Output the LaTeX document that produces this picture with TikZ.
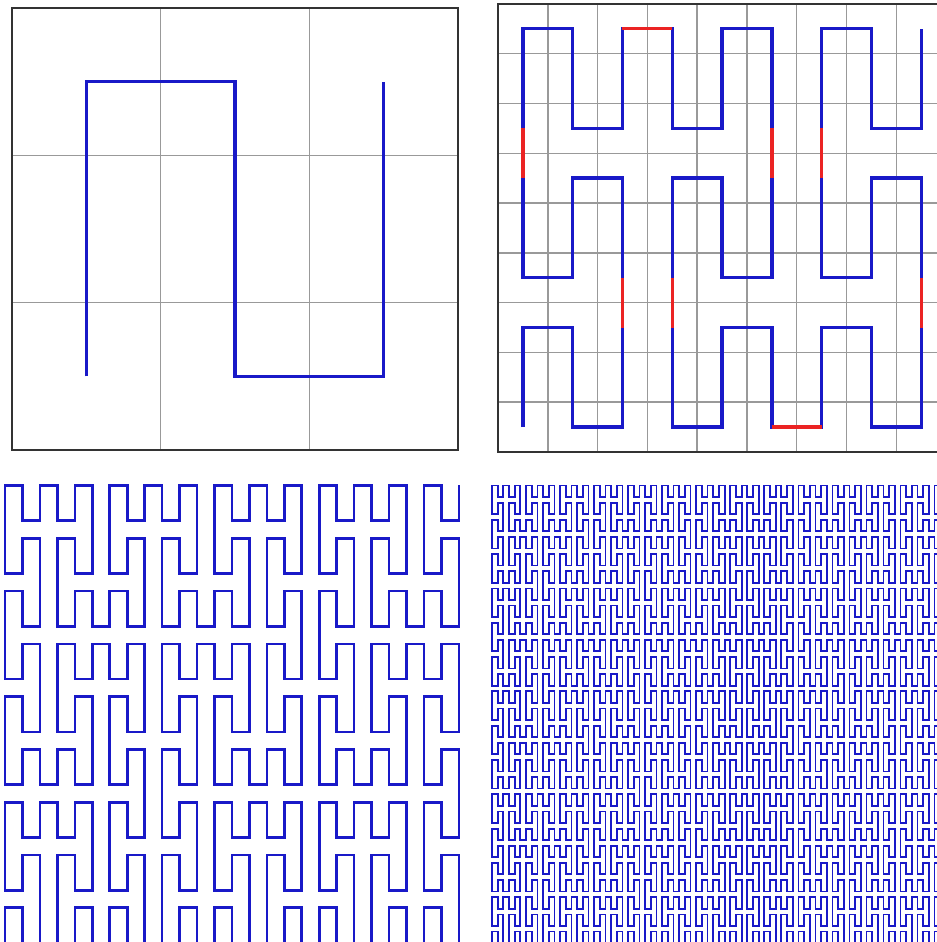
\documentclass[tikz,border=0pt]{standalone}

\definecolor{curveblue}{RGB}{25,25,200}
\definecolor{linkred}{RGB}{235,35,35}

% Peano curve as relative moves: order, x sense, y sense
\def\movex#1{ -- ++(\the\numexpr#1\relax,0)}
\def\movey#1{ -- ++(0,\the\numexpr#1\relax)}
\def\peano#1#2#3{%
  \ifnum#1>0 \peanoblocks{\the\numexpr#1-1\relax}{#2}{#3}\fi}
\def\peanoblocks#1#2#3{%
  \peano{#1}{#2}{#3}\movey{#3}%
  \peano{#1}{-#2}{#3}\movey{#3}%
  \peano{#1}{#2}{#3}\movex{#2}%
  \peano{#1}{#2}{-#3}\movey{-#3}%
  \peano{#1}{-#2}{-#3}\movey{-#3}%
  \peano{#1}{#2}{-#3}\movex{#2}%
  \peano{#1}{#2}{#3}\movey{#3}%
  \peano{#1}{-#2}{#3}\movey{#3}%
  \peano{#1}{#2}{#3}}

\edef\peanoA{\peano{1}{1}{1}}
\edef\peanoB{\peano{2}{1}{1}}
\edef\peanoC{\peano{3}{1}{1}}
\edef\peanoD{\peano{4}{1}{1}}

\begin{document}
\begin{tikzpicture}[
    x=0.02cm, y=0.02cm,
    frame/.style={draw=black!80, line width=1.2pt},
    gridline/.style={draw=black!40, line width=0.8pt},
    curve/.style={draw=curveblue, line join=miter},
    link/.style={draw=linkred, line width=1.9pt}
]
\useasboundingbox (0,0) rectangle (936,942);

% === Order 1 (top left), 3x3 cells ===
\begin{scope}[shift={(12,492)}, x=2.973cm, y=2.947cm]
    \foreach \i in {1,2} {
        \draw[gridline] (\i,0) -- (\i,3);
        \draw[gridline] (0,\i) -- (3,\i);
    }
    \draw[frame] (0,0) rectangle (3,3);
    \draw[curve, line width=1.8pt] (0.5,0.5) \peanoA;
\end{scope}

% === Order 2 (top right), 9x9 cells ===
\begin{scope}[shift={(498,490)}, x=0.996cm, y=0.996cm]
    \foreach \i in {1,...,8} {
        \draw[gridline] (\i,0) -- (\i,9);
        \draw[gridline] (0,\i) -- (9,\i);
    }
    \draw[frame] (0,0) rectangle (9,9);
    \draw[curve, line width=1.9pt] (0.5,0.5) \peanoB;
    % joints between the order-1 pieces
    \foreach \ax/\ay/\bx/\by in {2/2/2/3, 0/5/0/6, 2/8/3/8, 5/6/5/5,
                                 3/3/3/2, 5/0/6/0, 8/2/8/3, 6/5/6/6}
        \draw[link] ({\ax+0.5},{\ay+0.5}) -- ({\bx+0.5},{\by+0.5});
\end{scope}

% === Order 3 (bottom left), 27x27 points, lowest row cut by the edge ===
\begin{scope}[shift={(5,-1)}, x=0.3492cm, y=0.352cm]
    \draw[curve, line width=1.5pt] (0,0) \peanoC;
\end{scope}

% === Order 4 (bottom right), 81x81 points ===
\begin{scope}[shift={(492,-1)}, x=0.1135cm, y=0.1144cm]
    \draw[curve, line width=1pt] (0,0) \peanoD;
\end{scope}

\end{tikzpicture}
\end{document}
